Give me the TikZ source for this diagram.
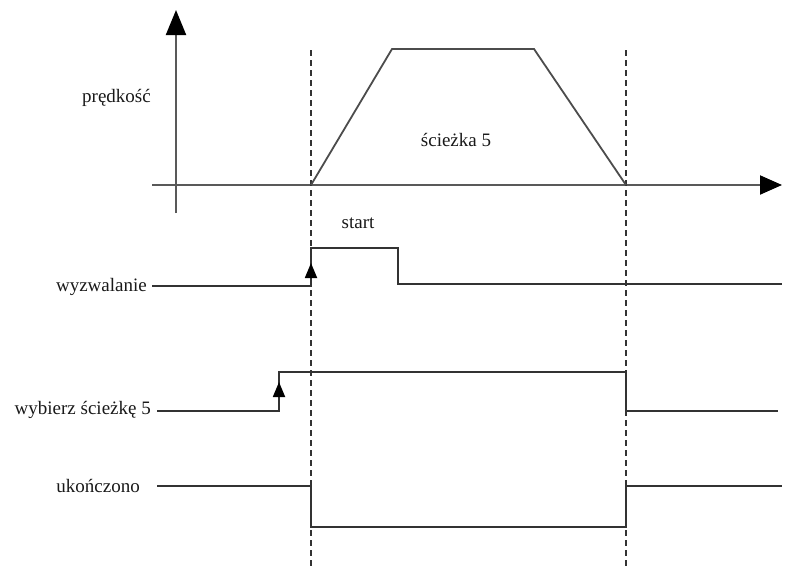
\documentclass[tikz,border=0pt]{standalone}
\usepackage{fontspec}
\setmainfont{Liberation Serif}
\usetikzlibrary{arrows.meta}
\begin{document}
\begin{tikzpicture}[x=1pt,y=-1pt,
  lbl/.style={font=\fontsize{19}{22}\selectfont, inner sep=0pt, text=black!90},
  sig/.style={draw=black!80, line width=1.8pt},
  ax/.style={draw=black!65, line width=2pt},
  guide/.style={draw=black!80, line width=2.2pt, dash pattern=on 6pt off 4pt},
  bigtip/.style={-{Triangle[length=25pt,width=20pt,color=black]}},
  smalltip/.style={-{Triangle[length=15pt,width=12pt,color=black]}}]
\useasboundingbox (0,0) rectangle (786,568);
% axes
\coordinate (vb) at (176,213);
\coordinate (vt) at (176,10);
\coordinate (hl) at (152,185);
\coordinate (hr) at (782,185);
\draw[ax,bigtip] (vb) -- (vt);
\draw[ax,-{Triangle[length=22pt,width=19pt,color=black]}] (hl) -- (hr);
% guides
\coordinate (g1t) at (311,50);
\coordinate (g1b) at (311,568);
\coordinate (g2t) at (626,50);
\coordinate (g2b) at (626,568);
\draw[guide] (g1t) -- (g1b);
\draw[guide] (g2t) -- (g2b);
% speed profile
\coordinate (p0) at (311,185);
\coordinate (p1) at (392,49);
\coordinate (p2) at (534,49);
\coordinate (p3) at (626,185);
\draw[sig,draw=black!70] (p0) -- (p1) -- (p2) -- (p3);
\node[lbl,anchor=east] (spd) at (151,98) {prędkość};
\node[lbl] (path) at (456,140) {ścieżka 5};
% trigger
\node[lbl,anchor=east] (trg) at (147,287) {wyzwalanie};
\coordinate (t0) at (152,286);
\coordinate (t1) at (311,286);
\coordinate (t2) at (311,248);
\coordinate (t3) at (398,248);
\coordinate (t4) at (398,284);
\coordinate (t5) at (782,284);
\draw[sig] (t0) -- (t1) -- (t2) -- (t3) -- (t4) -- (t5);
\coordinate (ta) at (311,263);
\draw[sig,smalltip] (t1) -- (ta);
\node[lbl] (st) at (358,223) {start};
% select path
\node[lbl,anchor=east] (sel) at (151,410) {wybierz ścieżkę 5};
\coordinate (s0) at (157,411);
\coordinate (s1) at (279,411);
\coordinate (s2) at (279,372);
\coordinate (s3) at (626,372);
\coordinate (s4) at (626,411);
\coordinate (s5) at (778,411);
\coordinate (sa) at (279,382);
\draw[sig] (s0) -- (s1) -- (s2) -- (s3) -- (s4) -- (s5);
\draw[sig,smalltip] (s1) -- (sa);
% completed
\node[lbl,anchor=east] (done) at (140,486) {ukończono};
\coordinate (d0) at (157,486);
\coordinate (d1) at (311,486);
\coordinate (d2) at (311,527);
\coordinate (d3) at (626,527);
\coordinate (d4) at (626,486);
\coordinate (d5) at (782,486);
\draw[sig] (d0) -- (d1) -- (d2) -- (d3) -- (d4) -- (d5);
\end{tikzpicture}
\end{document}
